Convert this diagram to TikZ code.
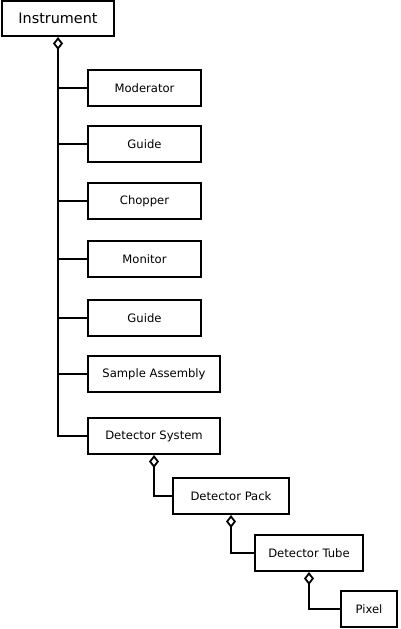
\documentclass[tikz,border=0pt]{standalone}
\usepackage{fontspec}
\setmainfont{DejaVu Sans}
\usetikzlibrary{arrows.meta}
\begin{document}
\begin{tikzpicture}[x=1pt,y=-1pt,
  box/.style={draw=black,line width=2pt,fill=white,inner sep=0pt,font=\fontsize{11.6}{13}\selectfont,minimum height=36pt},
  link/.style={line width=2pt,{Diamond[open,length=13pt,width=10pt,line width=1.8pt]}-},
  branch/.style={line width=2pt}]
\useasboundingbox (0,0) rectangle (400,629);
\node[box,minimum width=112pt,minimum height=35pt,font=\fontsize{14.4}{16}\selectfont] (inst) at (58,18.5) {Instrument};
\node[box,minimum width=113pt] (mod) at (144.5,88) {Moderator};
\node[box,minimum width=113pt] (guide1) at (144.5,144) {Guide};
\node[box,minimum width=113pt] (chop) at (144.5,201) {Chopper};
\node[box,minimum width=113pt] (mon) at (144.5,259) {Monitor};
\node[box,minimum width=113pt] (guide2) at (144.5,318) {Guide};
\node[box,minimum width=132pt] (samp) at (154,374) {Sample Assembly};
\node[box,minimum width=132pt] (dsys) at (154,436) {Detector System};
\node[box,minimum width=116pt] (dpack) at (231,496) {Detector Pack};
\node[box,minimum width=108pt] (dtube) at (309,553) {Detector Tube};
\node[box,minimum width=56pt] (pix) at (369,609) {Pixel};
\draw[link] (inst.south) |- (dsys.west);
\foreach \n in {mod,guide1,chop,mon,guide2,samp}{
  \draw[branch] (inst.south |- \n.west) -- (\n.west);
}
\draw[link] (dsys.south) |- (dpack.west);
\draw[link] (dpack.south) |- (dtube.west);
\draw[link] (dtube.south) |- (pix.west);
\end{tikzpicture}
\end{document}
